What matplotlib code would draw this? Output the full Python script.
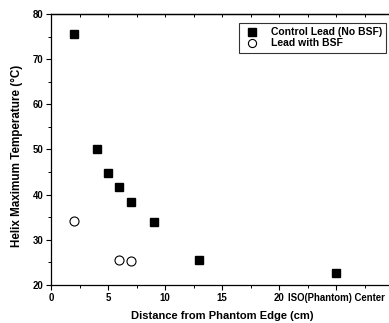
import numpy as np
import matplotlib.pyplot as plt
from matplotlib.ticker import MultipleLocator

plt.rcParams['font.family'] = ['Liberation Sans', 'DejaVu Sans']
plt.rcParams['font.weight'] = 'bold'
plt.rcParams['axes.labelweight'] = 'bold'

# data
ctrl_x = [2, 4, 5, 6, 7, 9, 13, 25]
ctrl_y = [75.6, 50.2, 44.9, 41.8, 38.3, 33.9, 25.6, 22.6]
bsf_x = [2, 6, 7]
bsf_y = [34.2, 25.6, 25.3]

xtick_pos = [0, 5, 10, 15, 20, 25]
xtick_lab = ["0", "5", "10", "15", "20", "ISO(Phantom) Center"]

W, H = 389, 323
fig = plt.figure(figsize=(W / 100, H / 100), dpi=100)
left, right, top, bottom = 51, 393, 14, 285
ax = fig.add_axes([left / W, 1 - bottom / H, (right - left) / W, (bottom - top) / H])

ax.plot(ctrl_x, ctrl_y, ls='none', marker='s', ms=6.2, color='black',
        label="Control Lead (No BSF)")
ax.plot(bsf_x, bsf_y, ls='none', marker='o', ms=6.5, mfc='white', mec='black',
        mew=0.8, label="Lead with BSF")

ax.set_xlim(0, 30)
ax.set_ylim(20, 80)
ax.set_xticks(xtick_pos)
ax.set_xticklabels(xtick_lab)
ax.xaxis.set_minor_locator(MultipleLocator(2.5))
ax.yaxis.set_minor_locator(MultipleLocator(5))
ax.set_yticks(np.arange(20, 81, 10))

ax.spines['right'].set_visible(False)
for s in ['left', 'bottom', 'top']:
    ax.spines[s].set_linewidth(0.9)

ax.tick_params(which='major', direction='out', length=3.5, width=0.8, labelsize=6.9, pad=2)
ax.tick_params(which='minor', direction='out', length=2, width=0.7)

top_ax = ax.secondary_xaxis('top')
top_ax.set_xticks(np.arange(0, 30.1, 2.5))
top_ax.tick_params(direction='in', length=2.5, width=0.7, labeltop=False)
top_ax.spines['top'].set_linewidth(0.9)

ax.set_xlabel("Distance from Phantom Edge (cm)", fontsize=8.0, labelpad=6)
ax.set_ylabel("Helix Maximum Temperature (°C)", fontsize=8.4)
ax.yaxis.set_label_coords(-0.083, 0.475)

leg = ax.legend(loc='upper left', bbox_to_anchor=((233.5 - left) / (right - left), 1 - 3.8 / (bottom - top)),
                fontsize=7.5, frameon=True, fancybox=False, edgecolor='black',
                borderpad=0.4, handletextpad=0.9, labelspacing=0.12, handlelength=1.8,
                markerscale=0.9)
leg.get_frame().set_linewidth(0.8)

fig.savefig("out.png", dpi=100)
